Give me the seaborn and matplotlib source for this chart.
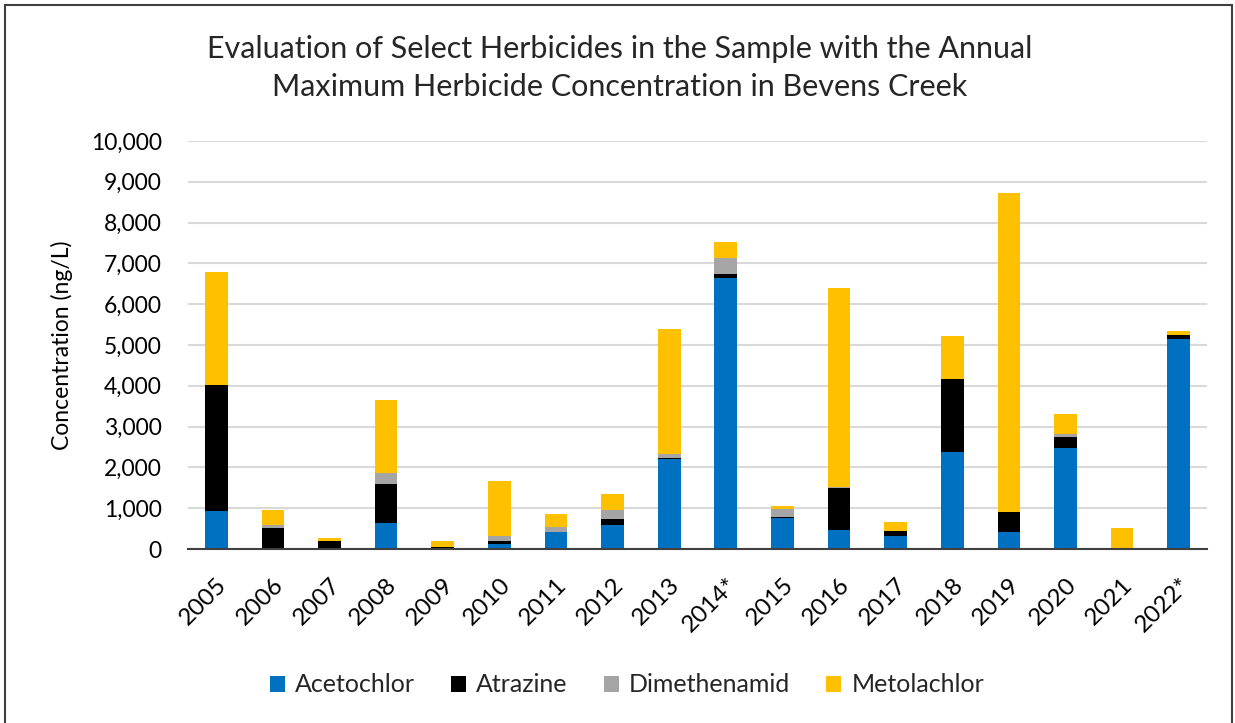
import matplotlib
matplotlib.use("Agg")
import matplotlib.pyplot as plt
from matplotlib.patches import Rectangle, Patch
from matplotlib.ticker import FuncFormatter
import numpy as np
import pandas as pd
import seaborn as sns

years = ["2005", "2006", "2007", "2008", "2009", "2010", "2011", "2012", "2013",
         "2014*", "2015", "2016", "2017", "2018", "2019", "2020", "2021", "2022*"]
acetochlor = [920, 0, 0, 640, 0, 130, 410, 600, 2200, 6630, 760, 465, 320, 2370, 410, 2475, 0, 5155]
atrazine = [3100, 520, 190, 950, 40, 75, 0, 145, 30, 115, 30, 1020, 130, 1790, 500, 280, 0, 90]
dimethenamid = [0, 80, 0, 285, 0, 105, 120, 220, 90, 390, 200, 25, 0, 0, 0, 75, 0, 0]
metolachlor = [2760, 360, 80, 1780, 160, 1355, 330, 385, 3070, 400, 65, 4880, 210, 1060, 7810, 480, 520, 100]

series_names = ["Acetochlor", "Atrazine", "Dimethenamid", "Metolachlor"]
colors = ["#0070C0", "#000000", "#A5A5A5", "#FFC000"]

sns.set_theme(style="white")
plt.rcParams["font.family"] = ["Lato", "DejaVu Sans"]

df = pd.DataFrame({"year": years,
                   "Acetochlor": acetochlor,
                   "Atrazine": atrazine,
                   "Dimethenamid": dimethenamid,
                   "Metolachlor": metolachlor})
cum = df[series_names].cumsum(axis=1)

fig = plt.figure(figsize=(12.35, 7.23), dpi=100)
ax = fig.add_axes([188 / 1235, 1 - 549 / 723, (1207 - 188) / 1235, (549 - 141) / 723])

# draw cumulative totals from top layer down so they stack visually
for name, col in reversed(list(zip(series_names, colors))):
    sns.barplot(x=df["year"], y=cum[name], color=col, width=0.4, ax=ax,
                saturation=1, linewidth=0, order=years)

ax.set_ylim(0, 10000)
ax.set_yticks(np.arange(0, 10001, 1000))
ax.yaxis.set_major_formatter(FuncFormatter(lambda v, p: f"{int(v):,}"))
ax.grid(axis="y", color="#D9D9D9", linewidth=1.5)
ax.set_axisbelow(True)
for s in ["top", "right", "left"]:
    ax.spines[s].set_visible(False)
ax.spines["bottom"].set_color("#404040")
ax.spines["bottom"].set_linewidth(1.5)
ax.set_xlabel("")
ax.set_ylabel("Concentration (ng/L)", fontsize=16.5, color="#000000")
ax.yaxis.set_label_coords((73 - 188) / 1019, 0.5)
ax.tick_params(axis="y", labelsize=16.5, length=0, pad=19, colors="#000000")
ax.tick_params(axis="x", labelsize=17.5, length=0, pad=18, colors="#000000")
plt.setp(ax.get_xticklabels(), rotation=45, ha="right", rotation_mode="anchor")

fig.text(620 / 1235, 1 - 68 / 723,
         "Evaluation of Select Herbicides in the Sample with the Annual\nMaximum Herbicide Concentration in Bevens Creek",
         ha="center", va="center", fontsize=22, linespacing=1.4)

handles = [Patch(facecolor=c, edgecolor="none") for c in colors]
fig.legend(handles, series_names, loc="center", bbox_to_anchor=(627 / 1235, 1 - 685 / 723),
           ncol=4, frameon=False, fontsize=18, handlelength=0.6, handleheight=0.6,
           columnspacing=1.45, handletextpad=0.4)

fig.patches.append(Rectangle((5 / 1235, -0.05), (1227 / 1235), 1.05 - 5 / 723,
                             transform=fig.transFigure, fill=False,
                             edgecolor="#404040", linewidth=1.5))

fig.savefig("out.png", dpi=100)
